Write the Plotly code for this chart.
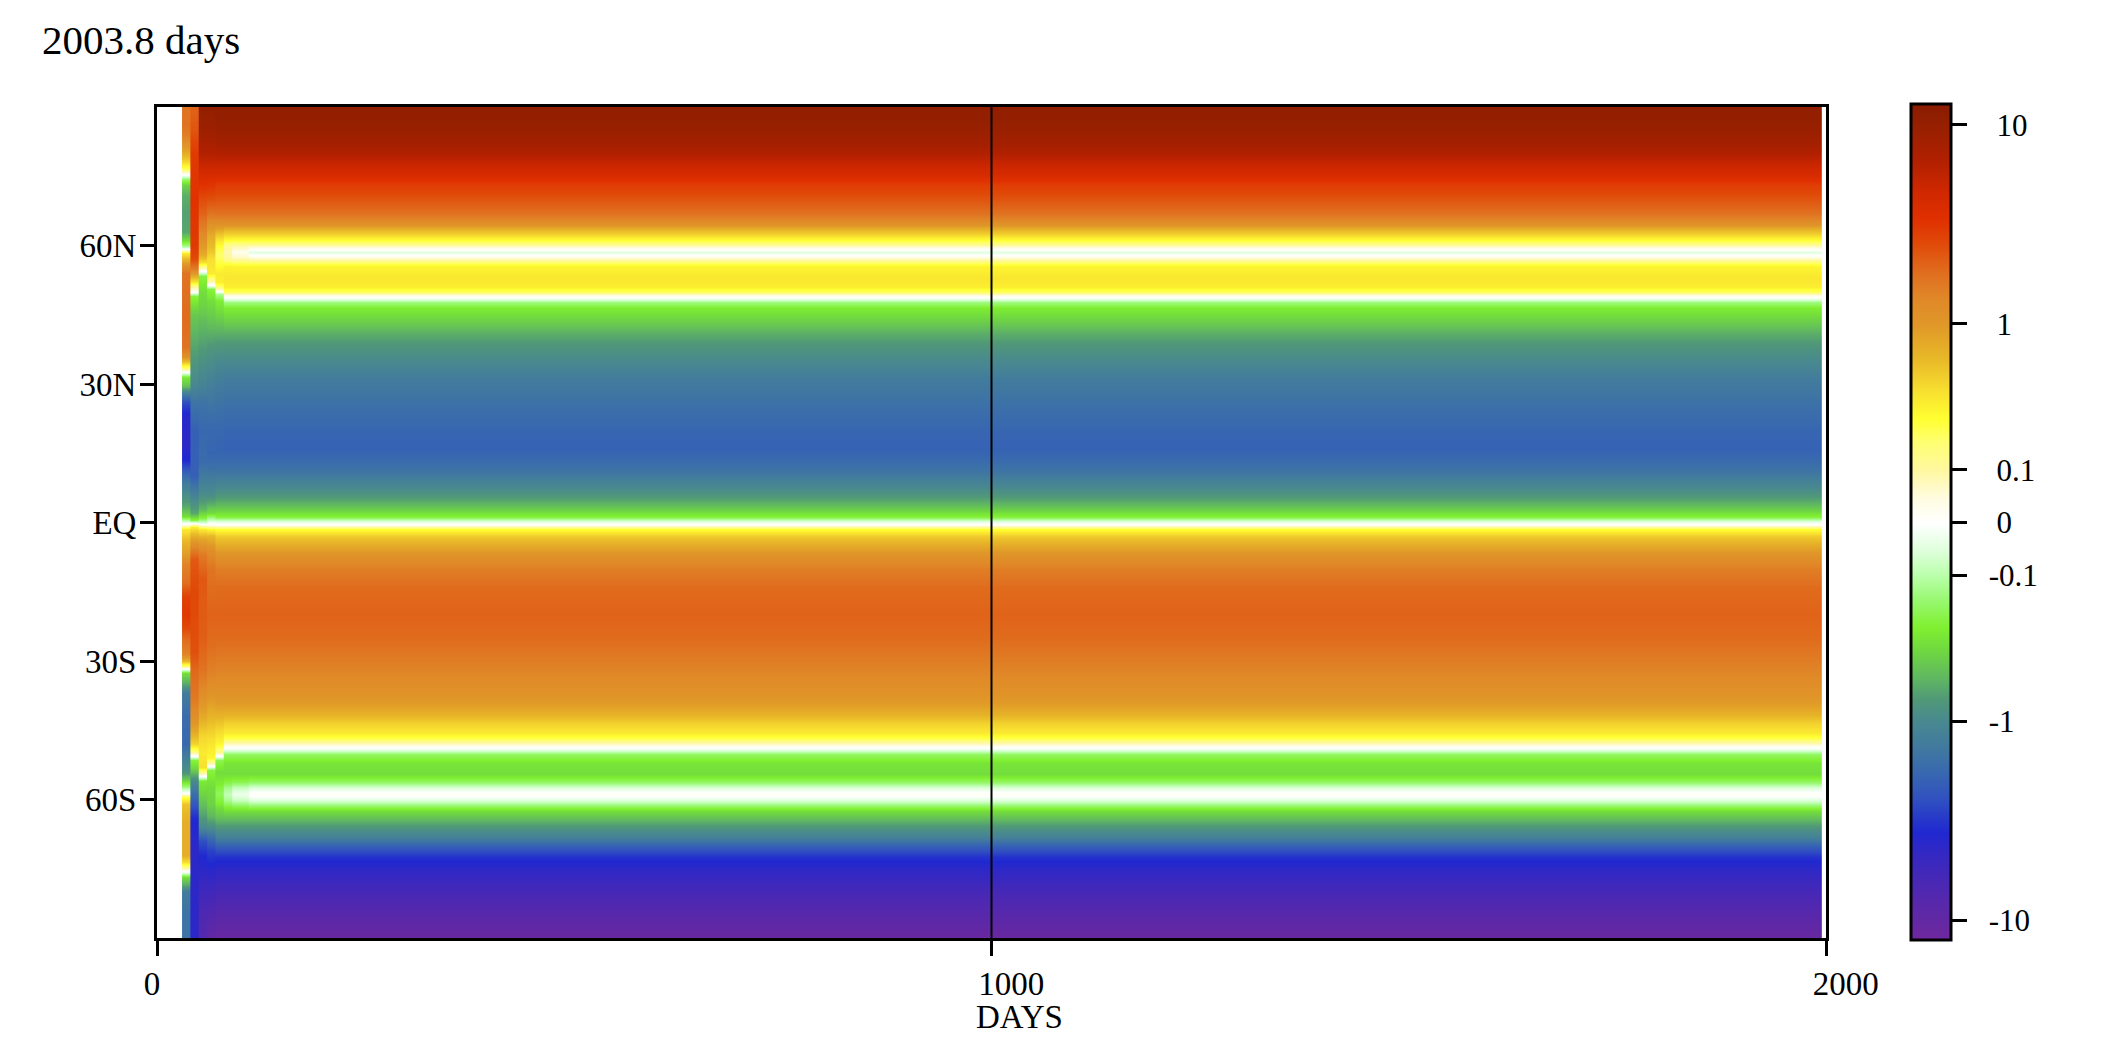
import numpy as np
import plotly.graph_objects as go

TITLE = "2003.8 days"
X_TITLE = "DAYS"
X_TICKS = [0, 1000, 2000]
X_TICK_TEXT = ["0", "1000", "2000"]
Y_TICKS = [60, 30, 0, -30, -60]
Y_TICK_TEXT = ["60N", "30N", "EQ", "30S", "60S"]
CB_TICK_VALUES = [10, 1, 0.1, 0, -0.1, -1, -10]
CB_TICK_TEXT = ["10", "1", "0.1", "0", "-0.1", "-1", "-10"]
MARK_DAY = 1000

# ---- early (transient) columns: day edges and latitude profiles ----
COL1_DAYS = [30, 40]
COL1_LAT = [90, 86, 84, 81, 78.5, 76.8, 75.5, 74.5, 73, 71, 67, 63, 61.3, 60, 59.2, 58.3, 57, 55.5, 54, 45, 38, 36, 34.7,
            33.5, 32.6, 31.5, 29.5, 28, 26, 23, 17, 13.5, 11, 8.5, 6, 3.5, 1.5, 0.3, -0.5, -1.5, -4, -6.5, -9, -13, -16,
            -20, -23, -25.5, -28.5, -30, -31, -31.7, -32.5, -35, -37, -42, -48, -51, -54, -55.5, -57, -58.5, -59.5,
            -61, -65, -72, -73.5, -74.8, -75.6, -76.7, -78.5, -80, -85, -90]
COL1_VAL = [1.7, 1.7, 1.5, 0.9, 0.45, 0.2, 0.02, -0.15, -0.35, -0.55, -0.65, -0.6, -0.3, -0.12, 0.0, 0.3, 0.6, 1.2, 1.7,
            1.85, 1.7, 1.2, 0.5, 0.15, 0.0, -0.25, -0.45, -1.2, -2.5, -4.0, -4.3, -3.5, -2.0, -1.3, -0.9, -0.6, -0.3,
            -0.08, 0.05, 0.3, 0.6, 0.9, 1.4, 1.8, 2.8, 3.1, 2.5, 1.8, 1.4, 0.6, 0.15, -0.02, -0.3, -0.6, -1.3, -1.7,
            -1.8, -1.2, -0.8, -0.4, -0.15, 0.0, 0.2, 0.5, 0.7, 0.7, 0.35, 0.1, -0.02, -0.3, -0.6, -1.3, -1.5, -1.5]

COL2_DAYS = [40, 50]
COL2_LAT = [90, 85, 80, 70, 60, 57, 55, 53.5, 52, 51, 50, 49, 47, 45, 40, 35, 30, 26, 20, 10, 8, 5, 2, 0.5, -0.3, -1,
            -3, -5, -8, -15, -28, -32, -38, -42, -45, -48, -49.5, -50.5, -51.5, -53.5, -56, -60, -64, -70, -90]
COL2_VAL = [2.0, 2.3, 3.0, 3.3, 3.0, 2.5, 1.5, 0.7, 0.3, 0.1, 0.0, -0.2, -0.3, -0.4, -0.55, -0.75, -1.0, -1.5, -2.0,
            -2.0, -1.5, -1.0, -0.6, -0.2, 0.05, 0.3, 0.7, 1.3, 2.2, 2.6, 2.4, 1.9, 1.6, 1.2, 0.8, 0.4, 0.15, 0.0, -0.2,
            -0.35, -1.0, -2.0, -3.5, -4.2, -4.2]

COL3_DAYS = [50, 60]
COL3_LAT = [90, 85, 80, 76, 73, 70, 67, 64, 61, 58, 56.5, 55.3, 54.5, 53.5, 50, 47, 44, 40, 35, 30, 26, 20, 13, 9, 6, 3,
            1, 0, -0.5, -1.5, -3.5, -7, -12, -25, -32, -36, -42, -46, -50, -53, -54.3, -55, -56, -60, -63, -66, -69,
            -72, -78, -85, -90]
COL3_VAL = [10.5, 9.0, 6.5, 4.3, 3.3, 2.5, 2.0, 1.5, 1.1, 0.7, 0.35, 0.12, 0.0, -0.2, -0.3, -0.35, -0.45, -0.6, -0.85,
            -1.1, -1.5, -1.8, -1.7, -1.2, -0.9, -0.5, -0.2, -0.05, 0.05, 0.3, 0.8, 1.6, 2.2, 2.1, 1.7, 1.3, 0.75, 0.4,
            0.3, 0.35, 0.1, 0.0, -0.25, -0.4, -0.6, -1.0, -2.5, -3.5, -5.0, -7.0, -8.0]

COL4_DAYS = [60, 70]
COL4_LAT = [90, 85, 80, 76, 73, 70, 67, 64.5, 62, 59, 57, 54, 52.5, 51.5, 50.5, 48, 45, 42, 38, 34, 30, 25, 20, 15, 12,
            9, 6, 4, 2, 0.5, -0.5, -1.5, -3, -6, -10, -20, -27, -33, -38, -43, -47, -51, -52, -52.8, -53.7, -57, -61,
            -63.5, -66, -68.5, -71, -75, -80, -86, -90]
COL4_VAL = [10.5, 9.0, 6.5, 4.3, 3.2, 2.4, 1.7, 1.1, 0.7, 0.5, 0.35, 0.3, 0.12, 0.0, -0.2, -0.3, -0.38, -0.5, -0.75,
            -0.95, -1.2, -1.5, -1.8, -1.85, -1.6, -1.2, -0.9, -0.55, -0.3, -0.08, 0.04, 0.25, 0.6, 1.2, 1.7, 2.0, 1.8,
            1.4, 1.0, 0.55, 0.35, 0.25, 0.1, 0.0, -0.2, -0.3, -0.35, -0.5, -0.9, -1.8, -2.8, -4.0, -5.5, -8.0, -10.0]

COL5_DAYS = [70, 80]
COL5_LAT = [90, 88, 85, 82, 80, 78, 76, 74.5, 73, 71, 69, 67, 65.5, 64, 62.5, 61, 59.5, 58, 56.5, 54, 52, 51, 50.2,
            49.4, 48, 46, 44, 42, 39, 36, 33, 29, 25, 20, 16, 13.5, 11, 9, 7, 5.5, 4, 2.5, 1.2, 0.3, -0.5, -1.5, -3,
            -5, -7, -10, -14, -20, -25, -28, -32, -36, -39, -42, -45, -48, -49.7, -50.6, -51.5, -54, -56.5, -58.5,
            -60.5, -62, -64, -66, -68, -70, -72.5, -75, -78, -81, -84, -87, -90]
COL5_VAL = [11, 10.5, 9.5, 8.0, 6.7, 5.3, 4.3, 3.5, 2.9, 2.5, 2.1, 1.75, 1.35, 0.95, 0.5, 0.3, 0.2, 0.16, 0.2, 0.3,
            0.28, 0.15, 0.02, -0.12, -0.24, -0.3, -0.38, -0.5, -0.7, -0.9, -1.1, -1.35, -1.55, -1.8, -1.9, -1.75,
            -1.45, -1.15, -0.9, -0.7, -0.5, -0.33, -0.2, -0.06, 0.03, 0.22, 0.45, 0.75, 1.1, 1.5, 1.85, 2.0, 1.85,
            1.65, 1.4, 1.15, 0.95, 0.62, 0.38, 0.25, 0.12, 0.0, -0.18, -0.3, -0.24, -0.17, -0.22, -0.32, -0.45,
            -0.75, -1.1, -2.0, -3.3, -4.3, -5.3, -6.5, -7.8, -9.3, -11]

# columns 80-90 and 90-110 share the steady latitude grid
COL6_DAYS = [80, 90]
COL6_VAL = [11, 10.5, 9.5, 8.0, 6.7, 5.3, 4.3, 3.5, 2.9, 2.5, 2.1, 1.75, 1.35, 1.05, 0.65, 0.42, 0.26, 0.16, 0.11,
            0.09, 0.11, 0.18, 0.27, 0.32, 0.28, 0.17, 0.05, -0.04, -0.13, -0.24, -0.3, -0.4, -0.55, -0.7, -0.85,
            -1.05, -1.3, -1.5, -1.7, -1.9, -1.95, -1.75, -1.45, -1.15, -0.9, -0.7, -0.5, -0.33, -0.2, -0.06, 0.03,
            0.22, 0.45, 0.75, 1.1, 1.5, 1.85, 2.0, 1.85, 1.65, 1.4, 1.15, 0.95, 0.65, 0.42, 0.3, 0.18, 0.05, -0.05,
            -0.16, -0.27, -0.3, -0.2, -0.12, -0.09, -0.12, -0.2, -0.3, -0.45, -0.75, -1.1, -2.0, -3.3, -4.3, -5.3,
            -6.5, -7.8, -9.3, -11]
COL7_DAYS = [90, 110]
COL7_VAL = [11, 10.5, 9.5, 8.0, 6.7, 5.3, 4.3, 3.5, 2.9, 2.5, 2.1, 1.75, 1.35, 1.05, 0.65, 0.42, 0.25, 0.15, 0.09,
            0.03, 0.08, 0.16, 0.26, 0.32, 0.28, 0.17, 0.05, -0.04, -0.13, -0.24, -0.3, -0.4, -0.55, -0.7, -0.85,
            -1.05, -1.3, -1.5, -1.7, -1.9, -1.95, -1.75, -1.45, -1.15, -0.9, -0.7, -0.5, -0.33, -0.2, -0.06, 0.03,
            0.22, 0.45, 0.75, 1.1, 1.5, 1.85, 2.0, 1.85, 1.65, 1.4, 1.15, 0.95, 0.65, 0.42, 0.3, 0.18, 0.05, -0.05,
            -0.16, -0.27, -0.3, -0.18, -0.08, -0.03, -0.08, -0.18, -0.3, -0.45, -0.75, -1.1, -2.0, -3.3, -4.3, -5.3,
            -6.5, -7.8, -9.3, -11]

# ---- steady state ----
STEADY_DAYS = [110, 1995]
STEADY_LAT = [90, 88, 85, 82, 80, 78, 76, 74.5, 73, 71, 69, 67, 65.5, 64.5, 63.5, 62.5, 61.5, 60.6, 59.8, 58.5, 57.3,
              56.5, 55.5, 53, 51, 50, 49.2, 48.5, 47.7, 46.5, 45, 43, 41, 39, 37, 34, 31, 27, 23, 19, 16, 13.5, 11, 9,
              7, 5.5, 4, 2.5, 1.2, 0.3, -0.5, -1.5, -3, -5, -7, -10, -14, -20, -25, -28, -32, -36, -39, -41.5, -43.5,
              -45.5, -47, -48.3, -49.2, -50.2, -52, -54.5, -56.2, -57.4, -58.8, -60.2, -61.3, -62.5, -64, -66, -68,
              -70, -72.5, -75, -78, -81, -84, -87, -90]
STEADY_VAL = [11, 10.5, 9.5, 8.0, 6.7, 5.3, 4.3, 3.5, 2.9, 2.5, 2.1, 1.75, 1.35, 1.05, 0.65, 0.42, 0.25, 0.15, 0.08,
              -0.05, 0.06, 0.15, 0.26, 0.32, 0.28, 0.17, 0.05, -0.04, -0.13, -0.24, -0.3, -0.4, -0.55, -0.7, -0.85,
              -1.05, -1.3, -1.5, -1.7, -1.9, -1.95, -1.75, -1.45, -1.15, -0.9, -0.7, -0.5, -0.33, -0.2, -0.06, 0.03,
              0.22, 0.45, 0.75, 1.1, 1.5, 1.85, 2.0, 1.85, 1.65, 1.4, 1.15, 0.95, 0.65, 0.42, 0.3, 0.18, 0.05, -0.05,
              -0.16, -0.27, -0.3, -0.16, -0.05, 0.02, -0.05, -0.16, -0.3, -0.45, -0.75, -1.1, -2.0, -3.3, -4.3, -5.3,
              -6.5, -7.8, -9.3, -11]

# ---- colour scale: positions (in colour-bar units) and colours ----
CB_POS = [-420, -408, -371, -338, -311, -278, -251, -228, -200, -178, -155, -128, -105, -78, -54, -30, -11, 0,
          25, 53, 82, 105, 132, 165, 199, 225, 249, 282, 305, 332, 365, 399, 420]
CB_COLORS = ["#7028a0", "#6828a0", "#5028b0", "#3828c0", "#2028d0", "#3050c0", "#3868b0", "#4078a0", "#488890",
             "#509878", "#60b860", "#70d840", "#80f030", "#98f870", "#b8ffa8", "#dcffd8", "#f2fff2", "#ffffff",
             "#fffce0", "#fff8a0", "#ffff70", "#ffff30", "#f8e030", "#e8b828", "#e09828", "#e08828", "#e07020",
             "#e04808", "#e03000", "#d02800", "#b02000", "#962000", "#8a1c00"]
CB_LIMIT = 420


def to_scale(v):
    v = np.asarray(v, dtype=float)
    a = np.maximum(np.abs(v), 1e-12)
    s = np.where(a <= 0.1, 530.0 * a,
                 np.where(a <= 1.0, 53.0 + 146.5 * np.log10(a / 0.1), 199.5 + 200.0 * np.log10(a)))
    s = np.where(np.abs(v) < 1e-12, 0.0, s)
    return np.sign(v) * np.minimum(s, CB_LIMIT)


FONT = "Liberation Serif"
colorscale = [[(p + CB_LIMIT) / (2 * CB_LIMIT), c] for p, c in zip(CB_POS, CB_COLORS)]

# figure is placed inside the page's 8px body margin
W, H = 2093, 1030
L, R, T, B = 149, 275, 99, 100
PW, PH = W - L - R, H - T - B

fig = go.Figure()

blocks = [(COL1_DAYS, COL1_LAT, COL1_VAL), (COL2_DAYS, COL2_LAT, COL2_VAL), (COL3_DAYS, COL3_LAT, COL3_VAL),
          (COL4_DAYS, COL4_LAT, COL4_VAL), (COL5_DAYS, COL5_LAT, COL5_VAL), (COL6_DAYS, STEADY_LAT, COL6_VAL),
          (COL7_DAYS, STEADY_LAT, COL7_VAL), (STEADY_DAYS, STEADY_LAT, STEADY_VAL)]

OVERLAP = 2.0  # days; each early block slightly underlaps the next to avoid seams
for i, (days, lats, vals) in enumerate(blocks):
    lat = np.array(lats, dtype=float)[::-1]
    s = to_scale(vals)[::-1]
    z = np.column_stack([s, s])
    d0, d1 = days
    if i < len(blocks) - 1:
        d1 = d1 + OVERLAP
    fig.add_trace(go.Heatmap(
        x=[d0, (d0 + d1) / 2.0, d1], y=lat, z=z,
        coloraxis="coloraxis", zsmooth="best", hoverinfo="skip", showscale=False))

nb = "\u00a0"
cb_text = [(nb * 2 if t.startswith("-") else nb * 3) + t for t in CB_TICK_TEXT]

fig.update_layout(
    width=W, height=H,
    margin=dict(l=L, r=R, t=T, b=B),
    paper_bgcolor="white", plot_bgcolor="white",
    font=dict(family=FONT, color="black", size=30),
    showlegend=False,
    title=dict(text=TITLE, x=34 / W, xanchor="left", xref="container",
               y=1 - 32 / H, yanchor="middle", yref="container",
               font=dict(family=FONT, size=41, color="black")),
    coloraxis=dict(
        cmin=-CB_LIMIT, cmax=CB_LIMIT, colorscale=colorscale,
        colorbar=dict(
            tickmode="array", tickvals=list(to_scale(CB_TICK_VALUES)), ticktext=cb_text,
            ticks="outside", ticklen=15, tickwidth=3, tickcolor="black",
            outlinewidth=3, outlinecolor="black",
            thickness=40, thicknessmode="pixels",
            len=836, lenmode="pixels",
            x=(1903 - L) / PW, xanchor="left", xpad=0,
            y=0.5, yanchor="middle", ypad=0,
            tickfont=dict(family=FONT, size=31, color="black"),
        ),
    ),
    xaxis=dict(
        range=[0, 2000], tickmode="array", tickvals=X_TICKS, ticktext=X_TICK_TEXT,
        ticks="outside", ticklen=15, tickwidth=2.5, tickcolor="black",
        showline=True, linewidth=3, linecolor="black", mirror=True,
        showgrid=False, zeroline=False,
        ticklabelposition="outside right", ticklabelshift=-16, ticklabelstandoff=14,
        tickfont=dict(family=FONT, size=33, color="black"),
    ),
    yaxis=dict(
        range=[-90, 90], tickmode="array", tickvals=Y_TICKS, ticktext=Y_TICK_TEXT,
        ticks="outside", ticklen=14, tickwidth=3, tickcolor="black",
        showline=True, linewidth=3, linecolor="black", mirror=True,
        showgrid=False, zeroline=False, ticklabelstandoff=-3,
        tickfont=dict(family=FONT, size=33, color="black"),
    ),
    shapes=[dict(type="line", xref="x", yref="paper", x0=MARK_DAY, x1=MARK_DAY, y0=0, y1=1,
                 line=dict(color="black", width=2), layer="above")],
    annotations=[dict(text=X_TITLE, xref="paper", yref="paper",
                      x=(1011 - L) / PW, y=(930 - 1009) / PH,
                      xanchor="center", yanchor="middle", showarrow=False,
                      font=dict(family=FONT, size=33, color="black"))],
)

fig.write_html("out.html")
